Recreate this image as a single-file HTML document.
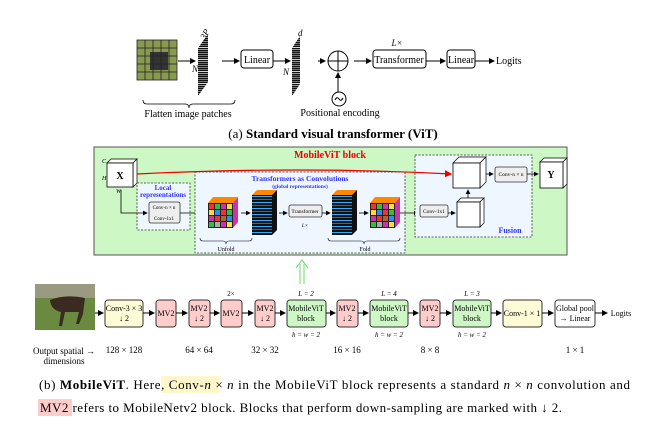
<!DOCTYPE html>
<html><head><meta charset="utf-8"><style>
html,body{margin:0;padding:0;background:#fff;}
svg{display:block;font-family:"Liberation Serif",serif;}
</style></head><body>
<svg width="667" height="429" viewBox="0 0 667 429" xmlns="http://www.w3.org/2000/svg">
<defs>
<marker id="a" markerWidth="6" markerHeight="6" refX="5" refY="3" orient="auto"><path d="M0,0 L6,3 L0,6 z" fill="#000"/></marker>
<marker id="r" markerWidth="6" markerHeight="6" refX="5" refY="3" orient="auto"><path d="M0,0 L6,3 L0,6 z" fill="#e00"/></marker>
<pattern id="stripes" width="10" height="3" patternUnits="userSpaceOnUse"><rect width="10" height="3" fill="#111"/><rect y="1" width="10" height="1" fill="#e34"/></pattern>
<pattern id="stripes2" width="10" height="6" patternUnits="userSpaceOnUse"><rect width="10" height="6" fill="#111"/><rect y="1" width="10" height="1" fill="#f0a"/><rect y="4" width="10" height="1" fill="#3af"/></pattern>
<pattern id="rainbow" width="10" height="12" patternUnits="userSpaceOnUse"><rect width="10" height="12" fill="#111"/><rect y="1" width="10" height="1" fill="#f80"/><rect y="3" width="10" height="1" fill="#e33"/><rect y="5" width="10" height="1" fill="#3b4"/><rect y="7" width="10" height="1" fill="#38e"/><rect y="9" width="10" height="1" fill="#c3a"/><rect y="11" width="10" height="1" fill="#fd3"/></pattern>
</defs>

<!-- (a) ViT -->
<rect x="137" y="40" width="40" height="40" fill="#8a9a50"/>
<rect x="150" y="52" width="18" height="18" fill="#333"/>
<g stroke="#222" stroke-width="0.8" fill="none">
<path d="M137 48h40M137 56h40M137 64h40M137 72h40M145 40v40M153 40v40M161 40v40M169 40v40"/>
<rect x="137" y="40" width="40" height="40"/>
</g>
<polygon points="198,48 208,34 208,82 198,96" fill="url(#rainbow)"/>
<text x="192" y="72" font-size="9" font-style="italic">N</text>
<text x="205" y="40" font-size="9" font-style="italic" transform="rotate(-60 205 40)">3P</text>
<line x1="178" y1="61" x2="195" y2="61" stroke="#000" marker-end="url(#a)"/>
<line x1="222" y1="61" x2="239" y2="61" stroke="#000" marker-end="url(#a)"/>
<rect x="241" y="50" width="32" height="18" rx="3" fill="#fff" stroke="#000"/>
<text x="257" y="63" font-size="10" text-anchor="middle">Linear</text>
<line x1="273" y1="61" x2="290" y2="61" stroke="#000" marker-end="url(#a)"/>
<text x="283" y="75" font-size="9" font-style="italic">N</text>
<polygon points="292,48 300,36 300,84 292,96" fill="url(#rainbow)"/>
<text x="298" y="36" font-size="9" font-style="italic">d</text>
<line x1="318" y1="61" x2="325" y2="61" stroke="#000" marker-end="url(#a)"/>
<circle cx="338" cy="61" r="10" fill="#fff" stroke="#000"/>
<path d="M328 61h20M338 51v20" stroke="#000"/>
<line x1="338" y1="92" x2="338" y2="73" stroke="#000" marker-end="url(#a)"/>
<circle cx="339" cy="99" r="7" fill="#fff" stroke="#000"/>
<path d="M335 100 q2 -4 4 -1 q2 3 4 -1" stroke="#000" fill="none"/>
<text x="340" y="116" font-size="10" text-anchor="middle">Positional encoding</text>
<line x1="354" y1="61" x2="371" y2="61" stroke="#000" marker-end="url(#a)"/>
<text x="397" y="46" font-size="9" font-style="italic" text-anchor="middle">L×</text>
<rect x="373" y="50" width="53" height="18" rx="3" fill="#fff" stroke="#000"/>
<text x="399" y="63" font-size="10" text-anchor="middle">Transformer</text>
<line x1="426" y1="61" x2="445" y2="61" stroke="#000" marker-end="url(#a)"/>
<rect x="447" y="50" width="28" height="18" rx="3" fill="#fff" stroke="#000"/>
<text x="461" y="63" font-size="10" text-anchor="middle">Linear</text>
<line x1="475" y1="61" x2="494" y2="61" stroke="#000" marker-end="url(#a)"/>
<text x="496" y="64" font-size="10">Logits</text>
<path d="M143 100 q0 4 4 4 h38 q4 0 4 4 q0 -4 4 -4 h38 q4 0 4 -4" stroke="#000" fill="none" stroke-width="0.8"/>
<text x="188" y="117" font-size="10" text-anchor="middle">Flatten image patches</text>
<text x="333" y="138" font-size="13" text-anchor="middle">(a) <tspan font-weight="bold">Standard visual transformer (ViT)</tspan></text>

<!-- MobileViT block -->
<rect x="94" y="147" width="473" height="108" fill="#cdf7c4" stroke="#555" stroke-width="1"/>
<text x="330" y="158" font-size="10" font-weight="bold" fill="#e00" text-anchor="middle">MobileViT block</text>
<polygon points="107,163 111,159 137,159 133,163" fill="#fff" stroke="#000" stroke-width="0.7"/>
<polygon points="133,163 137,159 137,183 133,187" fill="#fff" stroke="#000" stroke-width="0.7"/>
<rect x="107" y="163" width="26" height="24" fill="#fff" stroke="#000" stroke-width="0.8"/>
<text x="120" y="179" font-size="10" font-weight="bold" text-anchor="middle">X</text>
<text x="102" y="163" font-size="6" font-style="italic">C</text>
<text x="102" y="180" font-size="6" font-style="italic">H</text>
<text x="116" y="193" font-size="6" font-style="italic">W</text>
<rect x="137" y="183" width="53" height="47" fill="#eef6ff" stroke="#333" stroke-dasharray="2,1.5" stroke-width="0.8"/>
<text x="163" y="190" font-size="7" font-weight="bold" fill="#33f" text-anchor="middle">Local</text>
<text x="163" y="197" font-size="7" font-weight="bold" fill="#33f" text-anchor="middle">representations</text>
<rect x="149" y="202" width="31" height="21" rx="2" fill="#eee" stroke="#333" stroke-width="0.8"/>
<text x="164" y="209" font-size="5" text-anchor="middle">Conv-n × n</text>
<text x="164" y="220" font-size="5" text-anchor="middle">Conv-1x1</text>
<path d="M121 190 V213 H147" stroke="#000" fill="none" stroke-width="0.8" marker-end="url(#a)"/>
<line x1="180" y1="213" x2="205" y2="213" stroke="#000" stroke-width="0.8" marker-end="url(#a)"/>
<rect x="195" y="172" width="210" height="81" fill="#eef6ff" stroke="#333" stroke-dasharray="2,1.5" stroke-width="0.8"/>
<text x="300" y="181" font-size="7.5" font-weight="bold" fill="#33f" text-anchor="middle">Transformers as Convolutions</text>
<text x="300" y="188" font-size="5.5" font-weight="bold" fill="#33f" text-anchor="middle">(global representations)</text>
<g id="cube1">
<polygon points="208,203 213,197 238,197 233,203" fill="#f80"/>
<polygon points="233,203 238,197 238,222 233,228" fill="#c3a"/>
<rect x="208" y="203" width="25" height="25" fill="#222"/>
<rect x="209" y="204" width="5" height="5" fill="#e33"/><rect x="215" y="204" width="5" height="5" fill="#3b4"/><rect x="221" y="204" width="5" height="5" fill="#c3a"/><rect x="227" y="204" width="5" height="5" fill="#fd3"/>
<rect x="209" y="210" width="5" height="5" fill="#fd3"/><rect x="215" y="210" width="5" height="5" fill="#38e"/><rect x="221" y="210" width="5" height="5" fill="#e33"/><rect x="227" y="210" width="5" height="5" fill="#3b4"/>
<rect x="209" y="216" width="5" height="5" fill="#c3a"/><rect x="215" y="216" width="5" height="5" fill="#e33"/><rect x="221" y="216" width="5" height="5" fill="#a63"/><rect x="227" y="216" width="5" height="5" fill="#38e"/>
<rect x="209" y="222" width="5" height="5" fill="#3b4"/><rect x="215" y="222" width="5" height="5" fill="#aaa"/><rect x="221" y="222" width="5" height="5" fill="#c3a"/><rect x="227" y="222" width="5" height="5" fill="#fd3"/>
</g>
<use href="#cube1" x="162" y="0"/>
<line x1="241" y1="213" x2="250" y2="213" stroke="#000" stroke-width="0.8" marker-end="url(#a)"/>
<polygon points="252,195 257,190 277,190 272,195" fill="#f80"/>
<polygon points="272,195 277,190 277,230 272,235" fill="#111"/>
<rect x="252" y="195" width="20" height="40" fill="url(#stripes2)"/>
<line x1="279" y1="213" x2="287" y2="213" stroke="#000" stroke-width="0.8" marker-end="url(#a)"/>
<rect x="289" y="205" width="33" height="12" rx="2" fill="#eee" stroke="#333" stroke-width="0.8"/>
<text x="305" y="213" font-size="5.5" text-anchor="middle">Transformer</text>
<text x="305" y="227" font-size="5" font-style="italic" text-anchor="middle">L×</text>
<line x1="322" y1="213" x2="330" y2="213" stroke="#000" stroke-width="0.8" marker-end="url(#a)"/>
<polygon points="332,195 337,190 357,190 352,195" fill="#f80"/>
<polygon points="352,195 357,190 357,230 352,235" fill="#111"/>
<rect x="332" y="195" width="20" height="40" fill="url(#stripes2)"/>
<line x1="359" y1="213" x2="368" y2="213" stroke="#000" stroke-width="0.8" marker-end="url(#a)"/>
<path d="M200 238 q0 3 3 3 h20 q3 0 3 3 q0 -3 3 -3 h20 q3 0 3 -3" stroke="#000" fill="none" stroke-width="0.6"/>
<text x="226" y="251" font-size="6" text-anchor="middle">Unfold</text>
<path d="M328 238 q0 3 3 3 h30 q3 0 3 3 q0 -3 3 -3 h30 q3 0 3 -3" stroke="#000" fill="none" stroke-width="0.6"/>
<text x="365" y="251" font-size="6" text-anchor="middle">Fold</text>
<line x1="400" y1="213" x2="418" y2="213" stroke="#000" stroke-width="0.8" marker-end="url(#a)"/>
<rect x="415" y="155" width="117" height="82" fill="#eef6ff" stroke="#333" stroke-dasharray="2,1.5" stroke-width="0.8"/>
<text x="510" y="233" font-size="8" font-weight="bold" fill="#33f" text-anchor="middle">Fusion</text>
<rect x="420" y="205" width="28" height="12" rx="2" fill="#eee" stroke="#333" stroke-width="0.8"/>
<text x="434" y="213" font-size="5.5" text-anchor="middle">Conv-1x1</text>
<line x1="448" y1="213" x2="455" y2="213" stroke="#000" stroke-width="0.8" marker-end="url(#a)"/>
<polygon points="457,202 461,198 484,198 480,202" fill="#fff" stroke="#000" stroke-width="0.7"/>
<polygon points="480,202 484,198 484,223 480,227" fill="#fff" stroke="#000" stroke-width="0.7"/>
<rect x="457" y="202" width="23" height="25" fill="#fff" stroke="#000" stroke-width="0.8"/>
<line x1="468" y1="198" x2="468" y2="190" stroke="#000" stroke-width="0.8" marker-end="url(#a)"/>
<polygon points="453,163 459,157 486,157 480,163" fill="#fff" stroke="#000" stroke-width="0.7"/>
<polygon points="480,163 486,157 486,182 480,188" fill="#fff" stroke="#000" stroke-width="0.7"/>
<rect x="453" y="163" width="27" height="25" fill="#fff" stroke="#000" stroke-width="0.8"/>
<line x1="486" y1="174" x2="493" y2="174" stroke="#000" stroke-width="0.8" marker-end="url(#a)"/>
<rect x="495" y="167" width="32" height="15" rx="2" fill="#eee" stroke="#333" stroke-width="0.8"/>
<text x="511" y="176" font-size="5.5" text-anchor="middle">Conv-n × n</text>
<line x1="527" y1="174" x2="538" y2="174" stroke="#000" stroke-width="0.8" marker-end="url(#a)"/>
<polygon points="540,162 544,158 567,158 563,162" fill="#fff" stroke="#000" stroke-width="0.7"/>
<polygon points="563,162 567,158 567,184 563,188" fill="#fff" stroke="#000" stroke-width="0.7"/>
<rect x="540" y="162" width="23" height="26" fill="#fff" stroke="#000" stroke-width="0.8"/>
<text x="551" y="178" font-size="10" font-weight="bold" text-anchor="middle">Y</text>
<!-- red skip arrow on top -->
<path d="M137 174 Q300 166 451 174" stroke="#e00" stroke-width="1.2" fill="none" marker-end="url(#r)"/>
<path d="M300 284 V264 M304 284 V264 M296 268 L302 260 L308 268" stroke="#6d6" fill="none" stroke-width="1"/>

<!-- (b) pipeline -->
<rect x="35" y="284" width="60" height="46" fill="#6a8a40"/>
<rect x="35" y="284" width="60" height="14" fill="#9a9a80"/>
<path d="M50 300 q15 -6 35 -2 l-2 16 l-4 10 l-3 0 l3 -12 l-14 0 l-3 14 l-3 0 l2 -14 q-10 -2 -11 -12 z" fill="#3a2a20"/>
<line x1="95" y1="313" x2="103" y2="313" stroke="#000" marker-end="url(#a)"/>
<g font-size="8" text-anchor="middle">
<rect x="105" y="300" width="38" height="27" rx="3" fill="#fffbd6" stroke="#333"/>
<text x="124" y="311">Conv-3 × 3</text><text x="124" y="321">↓ 2</text>
<line x1="143" y1="313" x2="154" y2="313" stroke="#000" marker-end="url(#a)"/>
<rect x="156" y="300" width="20" height="27" rx="3" fill="#fcc" stroke="#333"/>
<text x="166" y="316">MV2</text>
<line x1="176" y1="313" x2="187" y2="313" stroke="#000" marker-end="url(#a)"/>
<rect x="189" y="300" width="21" height="27" rx="3" fill="#fcc" stroke="#333"/>
<text x="199" y="311">MV2</text><text x="199" y="321">↓ 2</text>
<line x1="210" y1="313" x2="219" y2="313" stroke="#000" marker-end="url(#a)"/>
<text x="231" y="296" font-size="7">2×</text>
<rect x="221" y="300" width="21" height="27" rx="3" fill="#fcc" stroke="#333"/>
<text x="231" y="316">MV2</text>
<line x1="242" y1="313" x2="253" y2="313" stroke="#000" marker-end="url(#a)"/>
<rect x="255" y="300" width="20" height="27" rx="3" fill="#fcc" stroke="#333"/>
<text x="265" y="311">MV2</text><text x="265" y="321">↓ 2</text>
<line x1="275" y1="313" x2="285" y2="313" stroke="#000" marker-end="url(#a)"/>
<text x="306" y="296" font-size="7" font-style="italic">L = 2</text>
<rect x="287" y="300" width="39" height="27" rx="3" fill="#cdf7c4" stroke="#333"/>
<text x="306" y="311">MobileViT</text><text x="306" y="321">block</text>
<text x="306" y="337" font-size="7" font-style="italic">h = w = 2</text>
<line x1="326" y1="313" x2="335" y2="313" stroke="#000" marker-end="url(#a)"/>
<rect x="337" y="300" width="21" height="27" rx="3" fill="#fcc" stroke="#333"/>
<text x="347" y="311">MV2</text><text x="347" y="321">↓ 2</text>
<line x1="358" y1="313" x2="368" y2="313" stroke="#000" marker-end="url(#a)"/>
<text x="389" y="296" font-size="7" font-style="italic">L = 4</text>
<rect x="370" y="300" width="38" height="27" rx="3" fill="#cdf7c4" stroke="#333"/>
<text x="389" y="311">MobileViT</text><text x="389" y="321">block</text>
<text x="389" y="337" font-size="7" font-style="italic">h = w = 2</text>
<line x1="408" y1="313" x2="418" y2="313" stroke="#000" marker-end="url(#a)"/>
<rect x="420" y="300" width="20" height="27" rx="3" fill="#fcc" stroke="#333"/>
<text x="430" y="311">MV2</text><text x="430" y="321">↓ 2</text>
<line x1="440" y1="313" x2="451" y2="313" stroke="#000" marker-end="url(#a)"/>
<text x="472" y="296" font-size="7" font-style="italic">L = 3</text>
<rect x="453" y="300" width="38" height="27" rx="3" fill="#cdf7c4" stroke="#333"/>
<text x="472" y="311">MobileViT</text><text x="472" y="321">block</text>
<text x="472" y="337" font-size="7" font-style="italic">h = w = 2</text>
<line x1="491" y1="313" x2="501" y2="313" stroke="#000" marker-end="url(#a)"/>
<rect x="503" y="300" width="39" height="27" rx="3" fill="#fffbd6" stroke="#333"/>
<text x="522" y="316">Conv-1 × 1</text>
<line x1="542" y1="313" x2="553" y2="313" stroke="#000" marker-end="url(#a)"/>
<rect x="555" y="300" width="40" height="27" rx="3" fill="#fff" stroke="#333"/>
<text x="575" y="311">Global pool</text><text x="575" y="321">→ Linear</text>
<line x1="595" y1="313" x2="607" y2="313" stroke="#000" marker-end="url(#a)"/>
<text x="621" y="316">Logits</text>
</g>
<g font-size="9" text-anchor="middle">
<text x="64" y="354">Output spatial →</text>
<text x="64" y="364">dimensions</text>
<text x="124" y="353">128 × 128</text>
<text x="199" y="353">64 × 64</text>
<text x="265" y="353">32 × 32</text>
<text x="347" y="353">16 × 16</text>
<text x="430" y="353">8 × 8</text>
<text x="575" y="353">1 × 1</text>
</g>
<rect x="161" y="376" width="58" height="17" fill="#fff6cc"/>
<rect x="38" y="399" width="34" height="17" fill="#fcc"/>
<text x="39" y="389" font-size="13" textLength="591" lengthAdjust="spacing">(b) <tspan font-weight="bold">MobileViT</tspan>. Here,  Conv-<tspan font-style="italic">n</tspan> × <tspan font-style="italic">n</tspan>  in the MobileViT block represents a standard <tspan font-style="italic">n</tspan> × <tspan font-style="italic">n</tspan> convolution and</text>
<text x="40" y="412" font-size="13" textLength="522" lengthAdjust="spacing">MV2  refers to MobileNetv2 block. Blocks that perform down-sampling are marked with ↓ 2.</text>
</svg>
</body></html>
